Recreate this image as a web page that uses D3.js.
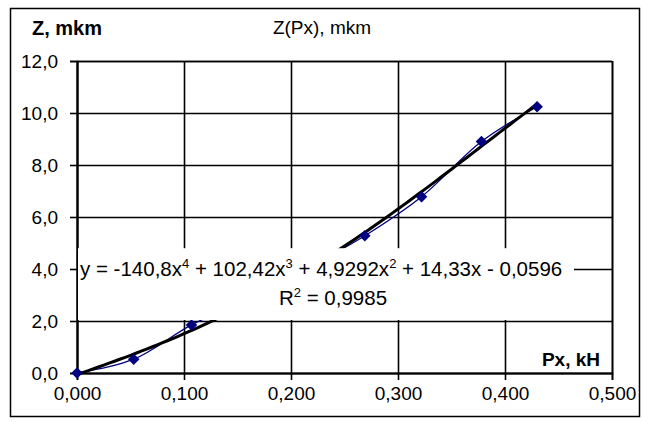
<!DOCTYPE html>
<html>
<head>
<meta charset="utf-8">
<script src="https://cdn.jsdelivr.net/npm/d3@7"></script>
</head>
<body>
<script type="text/javascript">
 // measured points Z(Px)
 var px = [0, 0.053, 0.107, 0.160, 0.214, 0.269, 0.322, 0.378, 0.430];
 var zVals = [0, 0.53, 1.85, 2.85, 4.0, 5.28, 6.78, 8.9, 10.24];
 // trendline coefficients, x^4 .. x^0 (as printed on the chart)
 var trendCoef = [-140.8, 102.42, 4.9292, 14.33, -0.0596];
 var xTicks = [0, 0.1, 0.2, 0.3, 0.4, 0.5];
 var yTicks = [0, 2, 4, 6, 8, 10, 12];

 var margin = {top: 61, right: 36, bottom: 50, left: 77},
 w = 648 - margin.left - margin.right,
 h = 423 - margin.top - margin.bottom;

 var x = d3.scaleLinear().domain([0, 0.5]).range([0, w]);
 var y = d3.scaleLinear().domain([0, 12]).range([h, 0]);
 var fmtX = function(d) { return d3.format(".3f")(d).replace(".", ","); };
 var fmtY = function(d) { return d3.format(".1f")(d).replace(".", ","); };

 var root = d3.select("body").append("svg")
    .attr("width", 648)
    .attr("height", 423);

 root.append("rect")
    .attr("x", 10.5).attr("y", 8.5)
    .attr("width", 629).attr("height", 408)
    .attr("fill", "#fff")
    .attr("stroke", "#000")
    .attr("stroke-width", 1.5);

 var svg = root.append("g")
    .attr("transform", "translate(" + margin.left + ", " + margin.top + ")");

 // grid
 svg.append("g")
    .attr("class", "grid")
    .call(d3.axisLeft(y).tickValues(yTicks).tickSize(-w).tickFormat(""));
 svg.append("g")
    .attr("class", "grid")
    .attr("transform", "translate(0, " + h + ")")
    .call(d3.axisBottom(x).tickValues(xTicks).tickSize(-h).tickFormat(""));

 svg.append("g")
    .attr("class", "axis")
    .call(d3.axisLeft(y).tickValues(yTicks).tickSize(7).tickPadding(12).tickFormat(fmtY));
 svg.append("g")
    .attr("class", "axis")
    .attr("transform", "translate(0, " + h + ")")
    .call(d3.axisBottom(x).tickValues(xTicks).tickSize(7).tickPadding(7).tickFormat(fmtX));

 // data line (smoothed) and markers
 var pts = px.map(function(d, i) { return [d, zVals[i]]; });
 var line = d3.line()
    .x(function(d) { return x(d[0]); })
    .y(function(d) { return y(d[1]); })
    .curve(d3.curveCatmullRom.alpha(0.5));
 svg.append("path")
    .datum(pts)
    .attr("d", line)
    .attr("fill", "none")
    .attr("stroke", "#000080")
    .attr("stroke-width", 1.3);

 // polynomial trendline
 var trend = d3.range(0, 0.4301, 0.005).map(function(t) {
    var v = 0;
    trendCoef.forEach(function(c) { v = v * t + c; });
    return [t, v];
 });
 svg.append("path")
    .datum(trend)
    .attr("d", d3.line().x(function(d) { return x(d[0]); }).y(function(d) { return y(d[1]); }))
    .attr("fill", "none")
    .attr("stroke", "#000")
    .attr("stroke-width", 3);

 svg.selectAll(".pt")
    .data(pts)
    .enter()
    .append("path")
    .attr("class", "pt")
    .attr("transform", function(d) { return "translate(" + x(d[0]) + "," + y(d[1]) + ")"; })
    .attr("d", d3.symbol().type(d3.symbolDiamond2).size(85))
    .attr("fill", "#000080");

 // trendline label
 svg.append("rect")
    .attr("x", 1).attr("y", y(4.8))
    .attr("width", 496).attr("height", y(2) - y(4.8) - 1)
    .attr("fill", "#fff");
 var eq = svg.append("text")
    .attr("class", "lbl")
    .attr("x", 3).attr("y", y(4) + 7);
 var parts = [["y = -140,8x", "4"], [" + 102,42x", "3"], [" + 4,9292x", "2"], [" + 14,33x - 0,0596", null]];
 var up = 0;
 parts.forEach(function(p) {
    eq.append("tspan").attr("dy", up).text(p[0]);
    up = 0;
    if (p[1]) {
      eq.append("tspan").attr("dy", -8).attr("font-size", "13px").text(p[1]);
      up = 8;
    }
 });
 var r2 = svg.append("text")
    .attr("class", "lbl")
    .attr("x", 256).attr("y", y(2.6))
    .attr("text-anchor", "middle");
 r2.append("tspan").text("R");
 r2.append("tspan").attr("dy", -8).attr("font-size", "13px").text("2");
 r2.append("tspan").attr("dy", 8).text(" = 0,9985");

 // titles
 root.append("text")
    .attr("x", 32).attr("y", 35)
    .style("font-weight", "bold")
    .style("font-size", "20px")
    .text("Z, mkm");
 root.append("text")
    .attr("x", 322).attr("y", 34)
    .attr("text-anchor", "middle")
    .style("font-size", "19px")
    .text("Z(Px), mkm");
 root.append("text")
    .attr("x", margin.left + w - 12).attr("y", margin.top + h - 7)
    .attr("text-anchor", "end")
    .style("font-weight", "bold")
    .style("font-size", "19px")
    .text("Px, kH");
</script>
<style>
    body {
     margin: 0;
     font-family: "Liberation Sans", Arial, sans-serif;
    }
    text {
     font-family: "Liberation Sans", Arial, sans-serif;
    }
    .axis path,
    .axis line {
     fill: none;
     stroke: #000;
     stroke-width: 1.6;
    }
    .axis text {
     font-size: 19px;
     fill: #000;
    }
    .grid .tick line {
     stroke: #000;
     stroke-width: 1.6;
    }
    .grid path {
     stroke: #000;
     stroke-width: 1.6;
    }
    .lbl {
     font-size: 20.5px;
    }
</style>
</body>
</html>
